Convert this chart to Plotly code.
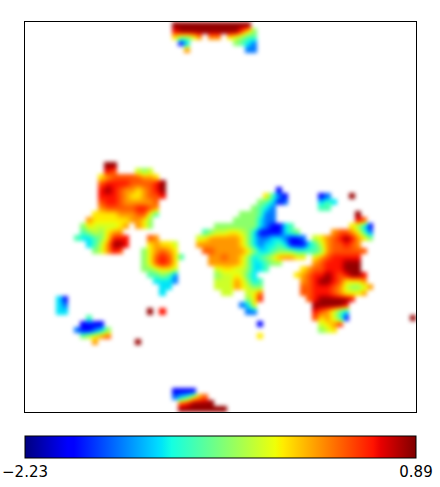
import plotly.graph_objects as go

N = 64
VMIN = -2.23
VMAX = 0.89

# value for each letter used in the blobs below
LEVELS = {"0": -2.23, "1": -1.86, "2": -1.48, "3": -1.14, "4": -0.86, "5": -0.61,
          "6": -0.36, "7": -0.17, "8": 0.11, "9": 0.33, "a": 0.55, "b": 0.83}

# each entry: grid row, first grid column, values along the row
TOP = [
    (0, 24, "bbbbbbbbbbbbb"),
    (1, 24, "abbbbbbbbbb975"),
    (2, 24, "75568"), (2, 30, "88"), (2, 33, "76544"),
    (3, 25, "13"), (3, 34, "5432"),
    (4, 26, "8"), (4, 36, "22"),
]
LEFT_UPPER = [
    (23, 13, "bb"),
    (24, 13, "a9"), (24, 18, "656"),
    (25, 12, "7899999887"),
    (26, 12, "9aaaa9999ab"),
    (27, 12, "aba988789ab"),
    (28, 12, "aaa9877899a"),
    (29, 12, "9aa9888889"),
    (30, 12, "899999aa98"),
    (31, 11, "77778889964"),
    (32, 10, "87777778875"),
    (33, 9, "57666678"), (33, 18, "875"),
    (34, 9, "4565788"),
    (35, 8, "433457aaa"),
    (36, 10, "3468bba"),
    (37, 11, "568a9"),
]
LEFT_LOWER = [
    (35, 20, "98"),
    (36, 20, "78776"),
    (37, 19, "578987"),
    (38, 19, "579a974"),
    (39, 19, "579a97"),
    (40, 19, "556776"),
    (41, 20, "44542"),
    (42, 21, "3332"),
    (43, 22, "33"),
    (44, 22, "3"),
]
SMALL_LEFT = [
    (45, 5, "31"), (46, 5, "32"), (47, 5, "33"),
    (48, 10, "4"),
    (49, 9, "1111"),
    (50, 8, "211235"),
    (51, 9, "56789"),
    (52, 11, "8"),
    (52, 18, "b"), (47, 20, "b"), (47, 22, "a"),
]
CENTER = [
    (27, 41, "1"),
    (28, 39, "7421"),
    (29, 38, "54312"),
    (30, 37, "5432"),
    (31, 35, "555422"),
    (32, 34, "5555322"),
    (33, 31, "5555555321134"),
    (34, 29, "4566776531111345"),
    (35, 28, "678888875322332112"),
    (36, 28, "8888888753233431113"),
    (37, 29, "99888887533455544"),
    (38, 30, "8898875345688877"),
    (39, 30, "888887533455"),
    (40, 31, "677665334"),
    (41, 31, "5667643"),
    (42, 31, "66687534"),
    (43, 31, "66687655"),
    (44, 32, "66"), (44, 36, "679"),
    (45, 36, "57a"),
    (46, 35, "237"),
    (47, 36, "22"),
    (49, 38, "1"),
    (51, 38, "7"),
]
RIGHT = [
    (28, 48, "12"), (28, 53, "b"),
    (29, 48, "343"),
    (30, 48, "44"),
    (31, 54, "b"),
    (32, 54, "a9"),
    (33, 53, "7531"),
    (34, 50, "8998742"),
    (35, 47, "6789aba875"),
    (36, 47, "46899a98"),
    (37, 46, "4458999999"),
    (38, 47, "789aaaaa"),
    (39, 47, "89aaabbb"),
    (40, 45, "7899aaabbb"),
    (41, 44, "789aaba9abba"),
    (42, 45, "89abba97778"),
    (43, 45, "99aaa9865568"),
    (44, 45, "99aaa987778"),
    (45, 46, "9abbbbba"),
    (46, 47, "bbbbba"),
    (47, 47, "a98643"),
    (48, 47, "978641"),
    (48, 63, "b"),
    (49, 48, "678a"),
    (50, 48, "567"),
]
BOTTOM = [
    (60, 24, "1111"),
    (61, 24, "234789"),
    (62, 25, "9abbbb"),
    (63, 25, "bbbbbbbb"),
]

BLOBS = [TOP, LEFT_UPPER, LEFT_LOWER, SMALL_LEFT, CENTER, RIGHT, BOTTOM]

z = [[None] * N for _ in range(N)]
for blob in BLOBS:
    for row, col, vals in blob:
        for i, ch in enumerate(vals):
            z[row][col + i] = LEVELS[ch]

# matplotlib jet
JET = [[0, "rgb(0,0,127)"], [0.11, "rgb(0,0,255)"], [0.125, "rgb(0,0,255)"],
       [0.34, "rgb(0,219,255)"], [0.35, "rgb(0,230,247)"], [0.375, "rgb(20,255,226)"],
       [0.64, "rgb(239,255,8)"], [0.65, "rgb(247,246,0)"], [0.66, "rgb(255,236,0)"],
       [0.89, "rgb(255,19,0)"], [0.91, "rgb(232,0,0)"], [1, "rgb(127,0,0)"]]

centers = [i + 0.5 for i in range(N)]

fig = go.Figure(go.Heatmap(
    z=z, x=centers, y=centers, zmin=VMIN, zmax=VMAX, colorscale=JET,
    zsmooth="best", hoverongaps=False,
    colorbar=dict(
        orientation="h", x=0, xanchor="left", xpad=0, len=1, lenmode="fraction",
        y=(487 - 436) / 487, yref="container", yanchor="top", ypad=0,
        thickness=22, thicknessmode="pixels",
        outlinecolor="black", outlinewidth=1,
        tickmode="array", tickvals=[VMIN, VMAX], ticktext=["\u22122.23", "0.89"],
        ticks="", tickfont=dict(family="DejaVu Sans", size=15, color="black"),
        tickangle=0,
    ),
))

axis = dict(showgrid=False, zeroline=False, showticklabels=False, ticks="",
            showline=True, linecolor="black", linewidth=1, mirror=True)
fig.update_xaxes(range=[0, N], **axis)
fig.update_yaxes(range=[N, 0], **axis)

fig.update_layout(
    width=440, height=487, autosize=False,
    margin=dict(l=25, r=24, t=22, b=75),
    paper_bgcolor="white", plot_bgcolor="white",
)

# page margin would push the plot down and right, blur is the soft look of the original image
post = """
document.body.style.margin = '0';
document.querySelectorAll('.hm image').forEach(function(im) { im.style.filter = 'blur(1.9px)'; });
"""
fig.write_html("out.html", post_script=post, config={"displayModeBar": False})
